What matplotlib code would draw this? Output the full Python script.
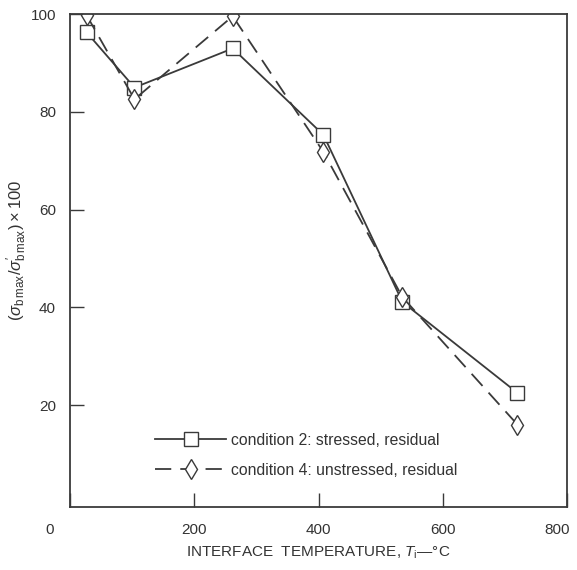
import matplotlib
matplotlib.use("Agg")
import matplotlib.pyplot as plt
import matplotlib.transforms as mtransforms

plt.rcParams['font.family'] = ['Liberation Sans', 'DejaVu Sans']
plt.rcParams['mathtext.fontset'] = 'custom'
plt.rcParams['mathtext.rm'] = 'Liberation Sans'
plt.rcParams['mathtext.it'] = 'Liberation Sans:italic'

# data
temp = [27, 104, 262, 408, 535, 720]
cond2 = [96.3, 85.0, 93.0, 75.3, 41.1, 22.5]   # stressed, residual
cond4 = [99.8, 82.6, 99.6, 71.8, 42.1, 16.0]   # unstressed, residual
xticks = [0, 200, 400, 600, 800]
yticks = [20, 40, 60, 80, 100]

fig = plt.figure(figsize=(5.77, 5.70), dpi=100)
ax = fig.add_axes([0.121, 0.111, 0.862, 0.864])

ink = '#3a3a3a'
ax.plot(temp, cond2, '-', color=ink, lw=1.3, marker='s', ms=10,
        mfc='white', mec=ink, mew=1.0, label='condition 2: stressed, residual')
ax.plot(temp, cond4, color=ink, lw=1.3, ls=(0, (9, 5)), marker='d', ms=10,
        mfc='white', mec=ink, mew=1.0, label='condition 4: unstressed, residual')

ax.set_xlim(0, 800)
ax.set_ylim(-0.8, 100)
ax.set_xticks(xticks)
ax.set_yticks(yticks)
ax.tick_params(direction='in', length=10, width=1.0, colors=ink,
               labelcolor='#333333', labelsize=11)
ax.tick_params(axis='x', pad=12)
ax.tick_params(axis='y', pad=10)
for s in ax.spines.values():
    s.set_color(ink)
    s.set_linewidth(1.3)

# end labels sit a little off their ticks in the original
lbls = ax.get_xticklabels()
for lbl, dx in ((lbls[0], -0.2), (lbls[-1], -0.1)):
    off = mtransforms.ScaledTranslation(dx, 0, fig.dpi_scale_trans)
    lbl.set_transform(lbl.get_transform() + off)

ax.set_xlabel(r'INTERFACE  TEMPERATURE, $T_{\rm i}$—°C', fontsize=11,
              color='#333333')
ax.xaxis.set_label_coords(0.5, -0.077)
ax.set_ylabel(r'$(\sigma_{\rm b\,max}/\sigma^{\prime}_{\rm b\,max})\times 100$',
              fontsize=12, color='#333333')
ax.yaxis.set_label_coords(-0.083, 0.52)

ax.legend(loc='lower left', bbox_to_anchor=(0.15, 0.037), frameon=False,
          handlelength=4.5, fontsize=11.3, labelspacing=0.95, handletextpad=0.3,
          labelcolor='#333333', borderaxespad=0.3)

fig.savefig('out.png', dpi=100)
